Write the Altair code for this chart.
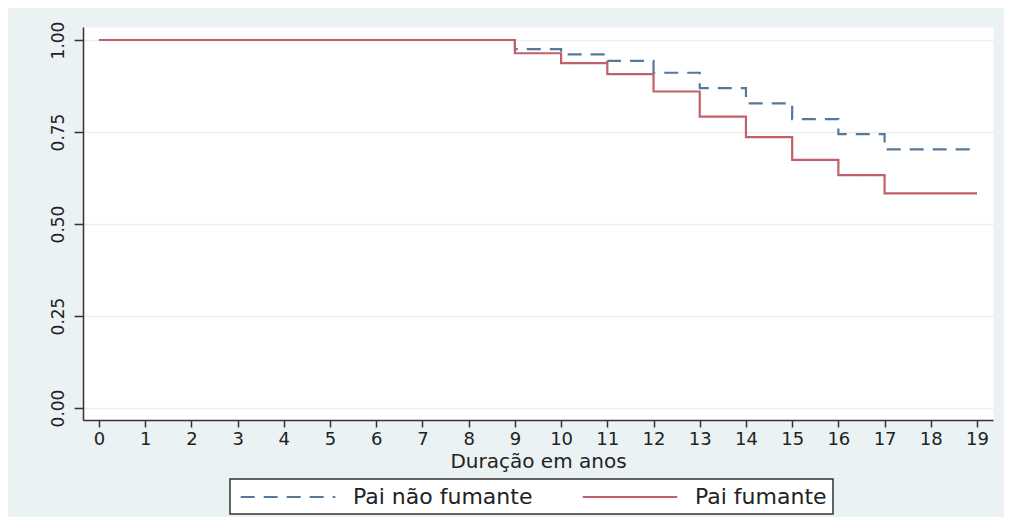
import altair as alt
import pandas as pd

# ---- data ----
series_names = ["Pai não fumante", "Pai fumante"]
x_times = [0, 9, 10, 11, 12, 13, 14, 15, 16, 17, 19]
surv_nao_fumante = [1.0, 0.975, 0.961, 0.943, 0.911, 0.869, 0.828, 0.785, 0.744, 0.703, 0.703]
surv_fumante = [1.0, 0.964, 0.937, 0.907, 0.860, 0.792, 0.736, 0.674, 0.633, 0.583, 0.583]
x_ticks = list(range(0, 20))
y_ticks = [0.0, 0.25, 0.5, 0.75, 1.0]
x_title = "Duração em anos"

colors = ["#56789a", "#c0606a"]
dashes = [[14, 9], [1, 0]]
FONT = "DejaVu Sans"

df_nf = pd.DataFrame({"t": x_times, "s": surv_nao_fumante, "grupo": series_names[0]})
df_f = pd.DataFrame({"t": x_times, "s": surv_fumante, "grupo": series_names[1]})

x_enc = alt.X(
    "t:Q",
    scale=alt.Scale(domain=[-0.346, 19.346], nice=False, zero=False),
    axis=alt.Axis(
        values=x_ticks, title=x_title, format="d",
        titleFont=FONT, titleFontSize=20, titleFontWeight="normal", titleColor="#222",
        titleY=47, titleBaseline="alphabetic",
        labelFont=FONT, labelFontSize=18, labelColor="#222",
        tickSize=7, tickWidth=1.5, tickColor="#333",
        domainColor="#333", domainWidth=1.5,
        labelPadding=3, labelFlush=False, labelOverlap=False, grid=False,
    ),
)
y_enc = alt.Y(
    "s:Q",
    scale=alt.Scale(domain=[-0.0326, 1.0353], nice=False, zero=False),
    axis=alt.Axis(
        values=y_ticks, format=".2f", title=None,
        labelFont=FONT, labelFontSize=17, labelColor="#222",
        labelAngle=270, labelAlign="center", labelBaseline="bottom",
        tickSize=9, tickWidth=1.5, tickColor="#333",
        domainColor="#333", domainWidth=1.5,
        labelPadding=7, grid=True, gridColor="#e6eff1", gridWidth=1.5,
    ),
)

legend_opts = dict(
    orient="none", legendX=147, legendY=452, direction="horizontal",
    title=None, symbolType="M-4.3,0H4.3", symbolSize=484, symbolStrokeWidth=2,
    symbolOffset=40, labelOffset=53,
    labelFont=FONT, labelFontSize=22, labelColor="#222",
    columnPadding=45, padding=6, fillColor="white", strokeColor="#333",
    labelLimit=400,
)

color_enc = alt.Color(
    "grupo:N",
    scale=alt.Scale(domain=series_names, range=colors),
    legend=alt.Legend(**legend_opts),
)
dash_enc = alt.StrokeDash(
    "grupo:N",
    scale=alt.Scale(domain=series_names, range=dashes),
    legend=alt.Legend(**legend_opts),
)

base_mark = dict(interpolate="step-after", strokeWidth=2.2)

line_nf = alt.Chart(df_nf).mark_line(**base_mark).encode(
    x=x_enc, y=y_enc, color=color_enc, strokeDash=dash_enc
)
line_f = alt.Chart(df_f).mark_line(**base_mark).encode(
    x=x_enc, y=y_enc, color=color_enc, strokeDash=dash_enc
)

chart = (
    alt.layer(line_nf, line_f)
    .properties(
        width=910, height=393,
        autosize=alt.AutoSizeParams(type="none"),
        padding={"left": 75, "top": 19, "right": 11, "bottom": 97},
        background="#eaf2f3",
    )
    .configure_view(fill="white", stroke="transparent")
    .configure_legend(strokeWidth=1.5)
)

chart.save("out.html", embed_options={"renderer": "svg", "actions": False})
